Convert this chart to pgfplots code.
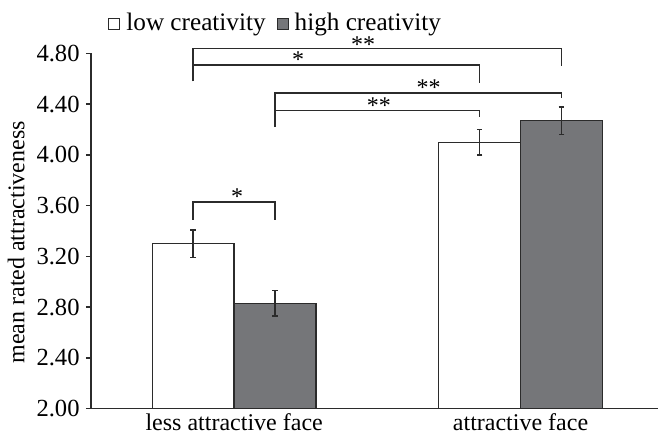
\documentclass[border=0pt]{standalone}
\usepackage{fontspec}
\setmainfont{Liberation Serif}
\usepackage{pgfplots}
\pgfplotsset{compat=1.18}
\definecolor{barg}{HTML}{757679}
\definecolor{edge}{HTML}{2B2B2B}

\begin{document}
\fontsize{12}{14}\selectfont
\begin{tikzpicture}
\begin{axis}[
    width=283.5pt, height=177.5pt, scale only axis,
    ybar=0pt, bar width=0.286,
    xmin=-0.5, xmax=1.48,
    ymin=2, ymax=4.8,
    clip=false,
    axis x line*=bottom, axis y line*=left,
    axis line style={draw=edge, line width=0.8pt},
    ytick={2,2.4,2.8,3.2,3.6,4.0,4.4,4.8},
    yticklabel style={font=\fontsize{12.3}{14}\selectfont, inner sep=0pt, xshift=-3pt,
        /pgf/number format/.cd, fixed, fixed zerofill, precision=2, assume math mode=true},
    xtick={0,1}, xticklabels={less attractive face, attractive face},
    xticklabel style={inner sep=0pt, yshift=0pt},
    x tick style={draw=none},
    y tick style={draw=edge, line width=0.8pt},
    extra x ticks={0.5}, extra x tick labels={},
    extra x tick style={tick style={draw=edge, line width=0.8pt}},
    tick align=outside, major tick length=2.5pt,
    ylabel={mean rated attractiveness},
    ylabel style={at={(axis description cs:-0.1164,0.468)}, anchor=south, inner sep=0pt},
    legend style={at={(axis description cs:0.03,1)}, anchor=south west, yshift=9.5pt,
        draw=none, fill=none, inner sep=0pt, legend columns=-1,
        font=\fontsize{12.6}{14}\selectfont,
        nodes={inner sep=0pt},
        /tikz/every odd column/.append style={column sep=3pt},
        /tikz/every even column/.append style={column sep=5.5pt}},
    legend image code/.code={\draw[#1, draw=edge, line width=0.5pt] (0pt,-2.75pt) rectangle (5.5pt,2.75pt);},
    error bars/y dir=both, error bars/y explicit,
    error bars/error bar style={draw=edge, line width=0.85pt},
    error bars/error mark options={rotate=90, draw=edge, line width=0.85pt, mark size=1.4pt},
]
\addplot[fill=white, draw=edge, line width=0.7pt] coordinates {
    (0, 3.30) +- (0, 0.11)
    (1, 4.10) +- (0, 0.10)
};
\addplot[fill=barg, draw=edge, line width=0.7pt] coordinates {
    (0, 2.83) +- (0, 0.10)
    (1, 4.27) +- (0, 0.11)
};
\legend{low creativity, high creativity}

% significance brackets
\draw[edge, line width=0.85pt] (axis cs:-0.143,4.58) |- (axis cs:1.143,4.84) -- (axis cs:1.143,4.70);
\draw[edge, line width=0.85pt] (axis cs:-0.143,4.71) -| (axis cs:0.857,4.57);
\draw[edge, line width=0.85pt] (axis cs:0.143,4.22) |- (axis cs:1.143,4.49) -- (axis cs:1.143,4.45);
\draw[edge, line width=0.85pt] (axis cs:0.143,4.35) -| (axis cs:0.857,4.30);
\draw[edge, line width=0.85pt] (axis cs:-0.143,3.49) |- (axis cs:0.143,3.63) -- (axis cs:0.143,3.49);

\node[anchor=south, inner sep=0pt, yshift=-2pt] at (axis cs:0.45,4.84) {**};
\node[anchor=south, inner sep=0pt, yshift=-1.5pt] at (axis cs:0.223,4.71) {*};
\node[anchor=south, inner sep=0pt, yshift=-1.5pt] at (axis cs:0.679,4.49) {**};
\node[anchor=south, inner sep=0pt, yshift=-1.5pt] at (axis cs:0.505,4.35) {**};
\node[anchor=south, inner sep=0pt, yshift=-1.5pt] at (axis cs:0.01,3.63) {*};
\end{axis}
\pgfresetboundingbox
\path ([xshift=-45.5pt, yshift=-12.5pt]current axis.south west) rectangle ([yshift=26.75pt]current axis.north east);
\end{tikzpicture}
\end{document}
